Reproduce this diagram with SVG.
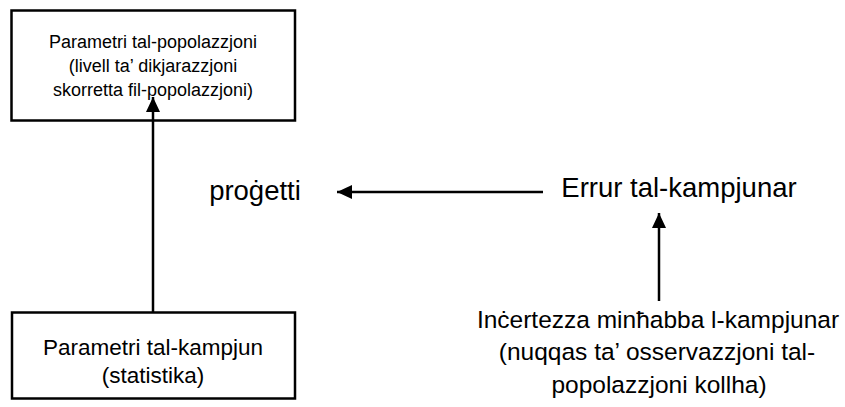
<svg xmlns="http://www.w3.org/2000/svg" width="845" height="407" viewBox="0 0 845 407">
<style>
.box{fill:#fff;stroke:#000;stroke-width:2.5}
.t{font-family:"Liberation Sans",Arial,sans-serif;fill:#000;text-anchor:middle}
.s{font-size:18px}
.m{font-size:22.5px}
.l{font-size:27.5px}
.r{font-size:24.5px}
.c{stroke:#000;stroke-width:2.5;fill:none}
</style>
<defs>
<marker id="ah" viewBox="0 0 15 14" refX="15" refY="7" markerWidth="15" markerHeight="14" markerUnits="userSpaceOnUse" orient="auto">
<path d="M0,0 L15,7 L0,14 z" fill="#000"/>
</marker>
</defs>
<rect width="845" height="407" fill="#fff"/>
<g id="node-pop">
<rect class="box" x="11.5" y="10.5" width="283.5" height="110"/>
<text class="t s" x="153" y="48">Parametri tal-popolazzjoni</text>
<text class="t s" x="153" y="72">(livell ta’ dikjarazzjoni</text>
<text class="t s" x="153" y="96">skorretta fil-popolazzjoni)</text>
</g>
<g id="node-sample">
<rect class="box" x="12" y="312.5" width="283" height="86"/>
<text class="t m" x="153" y="355">Parametri tal-kampjun</text>
<text class="t m" x="153" y="383">(statistika)</text>
</g>
<g id="node-progetti">
<text class="t l" x="255" y="200">proġetti</text>
</g>
<g id="node-errur">
<text class="t l" x="679" y="197">Errur tal-kampjunar</text>
</g>
<g id="node-incertezza">
<text class="t r" x="658" y="328">Inċertezza minħabba l-kampjunar</text>
<text class="t r" x="657" y="360">(nuqqas ta’ osservazzjoni tal-</text>
<text class="t r" x="659" y="393">popolazzjoni kollha)</text>
</g>
<g id="connectors">
<line class="c" x1="153" y1="312" x2="153" y2="97" marker-end="url(#ah)"/>
<line class="c" x1="543" y1="192" x2="337" y2="192" marker-end="url(#ah)"/>
<line class="c" x1="659" y1="301" x2="659" y2="213" marker-end="url(#ah)"/>
</g>
</svg>
